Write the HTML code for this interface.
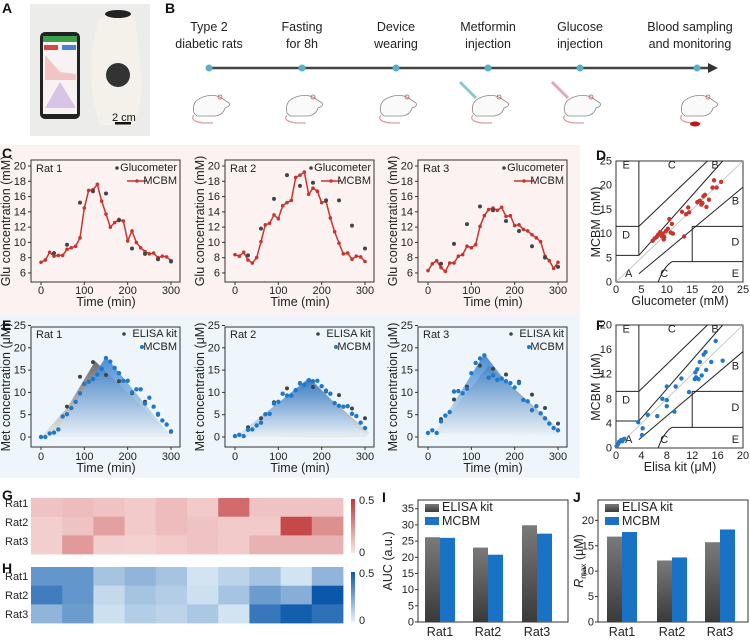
<!DOCTYPE html>
<html><head><meta charset="utf-8"><style>
html,body{margin:0;padding:0;background:#fff;}
svg{display:block;font-family:"Liberation Sans",Arial,sans-serif;}
.t{font-size:11px;fill:#222}
.al{font-size:12.5px;fill:#222}
.pl{font-size:14px;font-weight:bold;fill:#111}
.lg{font-size:11px;fill:#222}
</style></head><body>
<svg id="s" width="750" height="641" viewBox="0 0 750 641" xmlns="http://www.w3.org/2000/svg">
<defs>
<linearGradient id="gg" x1="0" y1="0" x2="0" y2="1"><stop offset="0" stop-color="#6e6e6e"/><stop offset="1" stop-color="#e8e8e8"/></linearGradient>
<linearGradient id="bg" x1="0" y1="0" x2="0" y2="1"><stop offset="0" stop-color="#2a7bd0"/><stop offset="1" stop-color="#e9f1f8"/></linearGradient>
<linearGradient id="barg" x1="0" y1="0" x2="0" y2="1"><stop offset="0" stop-color="#7a7a7a"/><stop offset="1" stop-color="#3a3a3a"/></linearGradient>
<linearGradient id="cbr" x1="0" y1="1" x2="0" y2="0"><stop offset="0" stop-color="#fbe6e6"/><stop offset="1" stop-color="#c03838"/></linearGradient>
<linearGradient id="cbb" x1="0" y1="1" x2="0" y2="0"><stop offset="0" stop-color="#e8f2f9"/><stop offset="1" stop-color="#0b58ab"/></linearGradient>
</defs>
<rect x="0" y="145" width="580" height="170" fill="#fcf2f1"/>
<rect x="0" y="315" width="580" height="163" fill="#eef6fb"/>
<!-- Panel A -->
<text class="pl" x="2" y="13">A</text>
<rect x="30" y="4" width="120" height="132" fill="#ececea"/>
<rect x="40" y="32" width="40" height="87" rx="5" fill="#222"/>
<rect x="43" y="36" width="34" height="78" fill="#f7f3f3"/>
<rect x="43" y="36" width="34" height="6" fill="#3aa04a"/>
<rect x="44" y="45" width="14" height="5" fill="#d84545"/><rect x="62" y="45" width="14" height="5" fill="#4a7ed8"/>
<path d="M45 55 L60 72 L76 74 L76 80 L45 80Z" fill="#f2c4c4"/>
<path d="M45 108 L60 82 L76 108Z" fill="#d7c4e6"/>
<path d="M98 20 Q120 5 135 18 L140 60 Q146 100 132 125 L100 125 Q88 90 92 50Z" fill="#f4f1ea"/>
<ellipse cx="118" cy="14" rx="13" ry="4" fill="#222"/>
<circle cx="118" cy="75" r="12" fill="#333"/>
<rect x="115" y="122" width="16" height="2.5" fill="#111"/>
<text x="112" y="121" style="font-size:11px;fill:#111">2 cm</text>
<!-- Panel B -->
<text class="pl" x="165" y="13">B</text>
<g class="al" text-anchor="middle" style="font-size:12.5px">
<text x="209" y="31">Type 2</text><text x="209" y="48">diabetic rats</text>
<text x="302" y="31">Fasting</text><text x="302" y="48">for 8h</text>
<text x="396" y="31">Device</text><text x="396" y="48">wearing</text>
<text x="488" y="31">Metformin</text><text x="488" y="48">injection</text>
<text x="580" y="31">Glucose</text><text x="580" y="48">injection</text>
<text x="690" y="31">Blood sampling</text><text x="690" y="48">and monitoring</text>
</g>
<line x1="209" y1="68" x2="710" y2="68" stroke="#444" stroke-width="2.5"/>
<path d="M708 63 L718 68 L708 73Z" fill="#333"/>
<g id="rats"></g>
<!-- Panel letters -->
<text class="pl" x="2" y="158">C</text>
<text class="pl" x="2" y="330">E</text>
<text class="pl" x="596" y="160">D</text>
<text class="pl" x="596" y="330">F</text>
<text class="pl" x="2" y="500">G</text>
<text class="pl" x="2" y="573">H</text>
<text class="pl" x="382" y="502">I</text>
<text class="pl" x="573" y="502">J</text>
<g id="g"></g>
<g class="t">
<text x="36" y="172">Rat 1</text><text x="230" y="172">Rat 2</text><text x="423" y="172">Rat 3</text>
<text x="36" y="338">Rat 1</text><text x="230" y="338">Rat 2</text><text x="423" y="338">Rat 3</text>
</g>
<g class="lg" text-anchor="end">
<text x="177" y="171">Glucometer</text><text x="177" y="184">MCBM</text>
<text x="371" y="171">Glucometer</text><text x="371" y="184">MCBM</text>
<text x="564" y="171">Glucometer</text><text x="564" y="184">MCBM</text>
<text x="177" y="337">ELISA kit</text><text x="177" y="350">MCBM</text>
<text x="371" y="337">ELISA kit</text><text x="371" y="350">MCBM</text>
<text x="564" y="337">ELISA kit</text><text x="564" y="350">MCBM</text>
</g>
<g class="al" text-anchor="middle">
<text x="106" y="306">Time (min)</text><text x="300" y="306">Time (min)</text><text x="493" y="306">Time (min)</text>
<text x="106" y="472">Time (min)</text><text x="300" y="472">Time (min)</text><text x="493" y="472">Time (min)</text>
<text transform="translate(10,221) rotate(-90)">Glu concentration (mM)</text>
<text transform="translate(204,221) rotate(-90)">Glu concentration (mM)</text>
<text transform="translate(397,221) rotate(-90)">Glu concentration (mM)</text>
<text transform="translate(10,387) rotate(-90)">Met concentration (μM)</text>
<text transform="translate(204,387) rotate(-90)">Met concentration (μM)</text>
<text transform="translate(397,387) rotate(-90)">Met concentration (μM)</text>
<text x="680" y="305">Glucometer (mM)</text>
<text x="680" y="471">Elisa kit (μM)</text>
<text transform="translate(600,222) rotate(-90)">MCBM (mM)</text>
<text transform="translate(600,387) rotate(-90)">MCBM (μM)</text>
<text transform="translate(392,561) rotate(-90)">AUC (a.u.)</text>
<text transform="translate(583,561) rotate(-90)"><tspan font-style="italic">R</tspan><tspan font-size="8" dy="3">max</tspan><tspan dy="-3"> (μM)</tspan></text>
</g>
<g class="t">
<text x="5" y="507">Rat1</text><text x="5" y="526">Rat2</text><text x="5" y="545">Rat3</text>
<text x="5" y="580">Rat1</text><text x="5" y="599">Rat2</text><text x="5" y="618">Rat3</text>
<text x="359" y="504">0.5</text><text x="359" y="556">0</text>
<text x="359" y="577">0.5</text><text x="359" y="624">0</text>
</g>
<g class="al">
<text x="442" y="511">ELISA kit</text><text x="442" y="525">MCBM</text>
<text x="622" y="511">ELISA kit</text><text x="622" y="525">MCBM</text>
</g>
<g class="al" text-anchor="middle">
<text x="440" y="636">Rat1</text><text x="488" y="636">Rat2</text><text x="537" y="636">Rat3</text>
<text x="622" y="636">Rat1</text><text x="672" y="636">Rat2</text><text x="720" y="636">Rat3</text>
</g>
<g id="tk" class="t"></g>
</svg>
<script>
var NS="http://www.w3.org/2000/svg",G=document.getElementById('g'),TK=document.getElementById('tk');
function el(t,a,p){var e=document.createElementNS(NS,t);for(var k in a)e.setAttribute(k,a[k]);(p||G).appendChild(e);return e;}
function tx(x,y,s,anc){var e=el('text',{x:x,y:y,'text-anchor':anc||'middle'},TK);e.textContent=s;}
var R=document.getElementById('rats');
[209,302,396,488,580,697].forEach(function(x,i){
 el('circle',{cx:x,cy:68,r:3.5,fill:'#5ab0c8'});
 var g=el('g',{transform:'translate('+(x-20)+',93)'},R);
 el('path',{d:'M5 20 Q2 8 14 4 Q26 0 34 6 L40 10 Q42 13 36 15 Q34 22 26 23 L8 23Z',fill:'#fafafa',stroke:'#888','stroke-width':0.8},g);
 el('path',{d:'M5 22 Q0 28 14 30 L24 30',fill:'none',stroke:'#d8a0a0','stroke-width':1.2},g);
 el('circle',{cx:31,cy:4,r:2,fill:'none',stroke:'#c55','stroke-width':0.8},g);
 if(i==3||i==4) el('line',{x1:x-28,y1:82,x2:x-12,y2:98,stroke:i==3?'#8cc8c8':'#e0a8b8','stroke-width':3});
 if(i==5) el('ellipse',{cx:x-2,cy:124,rx:5,ry:2.5,fill:'#c0161c'});
});
var boxes=[31,225,418];
function X(b,t){return b+10+t*130/300;}
var Cm=[[7.4,7.7,8.7,8.2,8.3,8.3,9.1,9.3,9.5,10.6,14.5,16.8,16.9,17.6,15.4,13.7,12.0,12.6,13.0,12.8,10.2,11.5,10.0,9.3,8.8,8.5,8.6,8.0,8.2,8.1,7.6],
[8.4,8.2,8.7,7.7,7.3,8.0,10.1,12.3,12.5,13.6,13.1,14.8,15.2,15.5,18.5,18.8,19.2,16.3,17.1,16.7,15.2,15.4,13.2,11.4,9.9,8.5,8.6,7.8,8.2,8.1,7.5],
[6.3,7.2,7.6,6.7,6.2,7.3,7.3,8.2,8.4,9.5,9.3,9.7,12.1,13.5,14.3,14.5,14.2,14.6,13.4,13.5,12.2,12.3,11.7,11.5,11.0,10.6,10.1,8.2,7.6,6.6,7.4]];
var Cg=[[8.6,9.7,15.2,16.7,16.4,12.9,9.2,8.5,7.8,7.5],[8.3,11.8,15.7,18.8,17.4,17.8,15.5,15.5,12.2,9.2],[7.2,9.8,12.4,14.7,14.2,12.8,11.5,9.5,8.0,6.8]];
function CY(v){return 166+(20-v)*7.64;}
function EY(v){return 437-v*4.46;}
boxes.forEach(function(b,i){
 el('rect',{x:b,y:160,width:149,height:122,fill:'none',stroke:'#333','stroke-width':1});
 for(var v=6;v<=20;v+=2){el('line',{x1:b-3,x2:b,y1:CY(v),y2:CY(v),stroke:'#333'});tx(b-5,CY(v)+3.5,v,'end');}
 [0,100,200,300].forEach(function(t){el('line',{x1:X(b,t),x2:X(b,t),y1:282,y2:285,stroke:'#333'});tx(X(b,t),294,t);el('line',{x1:X(b,t),x2:X(b,t),y1:447,y2:450,stroke:'#333'});tx(X(b,t),460,t);});
 var p=Cm[i].map(function(v,k){return X(b,k*10)+','+CY(v);}).join(' ');
 el('polyline',{points:p,fill:'none',stroke:'#c8352e','stroke-width':1.5});
 Cm[i].forEach(function(v,k){el('circle',{cx:X(b,k*10),cy:CY(v),r:1.8,fill:'#c8352e'});});
 Cg[i].forEach(function(v,k){el('circle',{cx:X(b,30+k*30),cy:CY(v),r:2,fill:'#444'});});
 el('circle',{cx:b+86,cy:168,r:1.8,fill:'#444'});
 el('line',{x1:b+96,x2:b+116,y1:181,y2:181,stroke:'#c8352e','stroke-width':1.5});el('circle',{cx:b+106,cy:181,r:1.8,fill:'#c8352e'});
 el('rect',{x:b,y:327,width:149,height:120,fill:'none',stroke:'#333','stroke-width':1});
 for(var v=0;v<=25;v+=5){el('line',{x1:b-3,x2:b,y1:EY(v),y2:EY(v),stroke:'#333'});tx(b-5,EY(v)+3.5,v,'end');}
 el('circle',{cx:b+93,cy:334,r:1.8,fill:'#444'});el('circle',{cx:b+111,cy:347,r:2,fill:'#1f78c8'});
});
var Eg=[[[0,0],[60,6.5],[125,17],[300,0.5],[300,0],[0,0]],[[0,0],[170,12.8],[310,1],[300,0]],[[15,0.8],[140,16],[305,1.5],[300,0.5]]];
var Eb=[[[0,0],[40,2],[150,18],[298,0.5],[300,0]],[[0,0],[172,13.3],[305,0.3]],[[15,0.8],[130,18.6],[175,13],[300,0.8],[300,0.5]]];
var Em=[[0,0,0.8,1,1.7,4.6,5.1,6.5,7.9,9.8,11.9,12.4,13,14,15.3,17.7,16.9,15.5,14.3,12.6,12.6,10,10.7,10.7,7.5,8.8,6.8,5.2,3.7,2.8,1.2],
[0.2,0.5,0.2,1.6,1.7,2.6,3.2,5.1,5.2,7.5,7.9,9.7,9.3,9.3,10.5,12,11.7,12.7,12.5,12.6,11.4,10.4,9.7,7.6,7,6.8,6.9,5.2,4.7,3.2,2],
[0.9,1.5,0.9,3.5,4.8,5.6,10.2,10.3,9.8,10.8,14.3,16.6,17.6,18.3,13.3,13.8,12.8,13.1,12.5,12.1,11.1,12.1,8.3,8,6,6.9,5.3,4.2,3,2,1.5]];
var Ee=[[6.8,13.5,16.8,13.9,12.5,9.8,7.9,5,1.3],[2.2,4.2,7.8,10.9,12.1,11.2,10.2,9.4,6.4,4.2],[4,8.4,11.3,16,15.3,14,12.4,9.5,6.5,3]];
boxes.forEach(function(b,i){
 var pts=function(a){return a.map(function(q){return X(b,q[0])+','+EY(q[1]);}).join(' ');};
 el('polygon',{points:pts(Eg[i]),fill:'url(#gg)'});
 el('polygon',{points:pts(Eb[i]),fill:'url(#bg)',opacity:0.85});
 Ee[i].forEach(function(v,k){var t=i==0?60+k*30:30+k*30;el('circle',{cx:X(b,t),cy:EY(v),r:2,fill:'#444'});});
 Em[i].forEach(function(v,k){el('circle',{cx:X(b,k*10),cy:EY(v),r:2.2,fill:'#1f78c8'});});
});
function grid(y0,y1,top,bot,max,col,pts){
 var L=616,Rr=743,sx=(Rr-L)/max,sy=(bot-top)/max,s=max/25;
 function P(x,y){return (L+x*s*sx)+','+(bot-y*s*sy);}
 el('rect',{x:L,y:top,width:Rr-L,height:bot-top,fill:'#fff',stroke:'#333'});
 el('line',{x1:L,y1:bot,x2:Rr,y2:top,stroke:'#bbb','stroke-width':0.8});
 [[[4.5,5.5],[4.5,25]],[[0,11.5],[4.5,11.5]],[[0,5.5],[4.5,5.5]],[[4.5,11.5],[18,25]],[[4.5,5.5],[21,25]],[[4.5,1.7],[25,19.6]],[[11,4.2],[25,4.2]],[[15,4.2],[15,11.5]],[[15,11.5],[25,11.5]]].forEach(function(l){
  el('polyline',{points:P(l[0][0],l[0][1])+' '+P(l[1][0],l[1][1]),fill:'none',stroke:'#222','stroke-width':1});});
 el('path',{d:'M'+P(8.3,0)+' Q'+P(9.3,3)+' '+P(11,4.2),fill:'none',stroke:'#222'});
 var lab=[['E',2,23.5],['C',11,23.5],['B',19.5,23.5],['B',23.5,16],['D',2,9],['D',23.5,7.5],['A',2.5,1],['C',9.5,1],['E',23.5,1]];
 lab.forEach(function(q){var e=el('text',{x:L+q[1]*s*sx,y:bot-q[2]*s*sy,'text-anchor':'middle',class:'t'});e.textContent=q[0];});
 pts.forEach(function(q){el('circle',{cx:L+q[0]*sx,cy:bot-q[1]*sy,r:2.2,fill:col});});
 var st=max==25?5:4;
 for(var v=0;v<=max;v+=st){tx(L+v*sx,bot+11,v);tx(L-4,bot-v*sy+3.5,v,'end');}
}
grid(0,0,161,282,25,'#c8352e',[[7.2,8.5],[7.6,9],[8,9.3],[8.3,9.8],[8.7,10.3],[9,9.5],[9.2,10],[9.5,9.3],[9.8,10.5],[10.2,11],[10.5,13],[10.8,10.2],[11,12],[11.2,10],[13,14.5],[13.4,9.4],[13.8,14],[14.2,15.4],[14.4,14.4],[16,16.5],[16.5,16.8],[17,16.3],[17.2,17.7],[17.5,18],[17.8,15.5],[18.3,17],[19,19.5],[19.3,21],[19.8,19.5],[20.7,20.7],[16.8,16],[9.4,8.8]]);
grid(0,0,325,448,20,'#1f78c8',[[0.1,0.3],[0.3,0.6],[0.5,1],[0.8,1.3],[1,1.1],[1.3,1.5],[3.5,4.2],[4.2,3.2],[4.1,2.1],[5,5.4],[6.5,5.2],[7.3,8],[8,10],[8,7.8],[8,6.8],[9.2,5.9],[9.4,10],[10.3,11.3],[11.5,9.1],[12.4,11.2],[12.5,12.3],[12.6,11.5],[12.8,12.8],[13.2,14],[13.5,11.8],[13.8,15.2],[14.1,15.6],[14.2,12.7],[15,14],[15.7,17.4],[16.8,14.2],[13,11.2]]);
function hm(y0,vals,c0,c1){for(var r=0;r<3;r++)for(var c=0;c<10;c++){var v=Math.min(vals[r][c]/0.5,1);var col='rgb('+[0,1,2].map(function(k){return Math.round(c0[k]+(c1[k]-c0[k])*v);}).join(',')+')';el('rect',{x:31+c*31.2,y:y0+r*18.7,width:31.6,height:19,fill:col});}}
hm(498,[[.1,.12,.1,.08,.12,.08,.35,.1,.1,.1],[.07,.1,.2,.08,.12,.1,.08,.08,.45,.25],[.07,.22,.07,.06,.08,.1,.08,.15,.15,.15]],[251,230,230],[192,56,56]);
hm(567,[[.3,.3,.15,.2,.15,.05,.1,.15,.05,.2],[.38,.3,.08,.15,.12,.06,.15,.28,.22,.5],[.2,.28,.06,.12,.1,.14,.05,.4,.48,.42]],[232,242,249],[11,88,171]);
el('rect',{x:351,y:499,width:4,height:54,fill:'url(#cbr)'});
el('rect',{x:351,y:572,width:4,height:50,fill:'url(#cbb)'});
function bars(L,Rr,top,bot,max,step,vals,xs){
 el('rect',{x:L,y:top,width:Rr-L,height:bot-top,fill:'none',stroke:'#333'});
 var sy=(bot-top)/max;
 for(var v=0;v<=max;v+=step){tx(L-4,bot-v*sy+3.5,v,'end');el('line',{x1:L-3,x2:L,y1:bot-v*sy,y2:bot-v*sy,stroke:'#333'});}
 vals.forEach(function(v,k){var x=xs[k];el('rect',{x:x,y:bot-v*sy,width:15,height:v*sy,fill:k%2?'#1a72c4':'url(#barg)'});});
 el('rect',{x:L+7,y:504,width:14,height:8,fill:'url(#barg)'});el('rect',{x:L+7,y:517,width:14,height:8,fill:'#1a72c4'});
}
bars(418,568,500,622,37.7,5,[26.2,26,23,20.8,29.9,27.3],[425,440,473,488,522,537]);
bars(598,748,500,622,24,5,[16.8,17.7,12.1,12.7,15.7,18.2],[607,622,657,672,705,720]);
</script>
</body></html>
